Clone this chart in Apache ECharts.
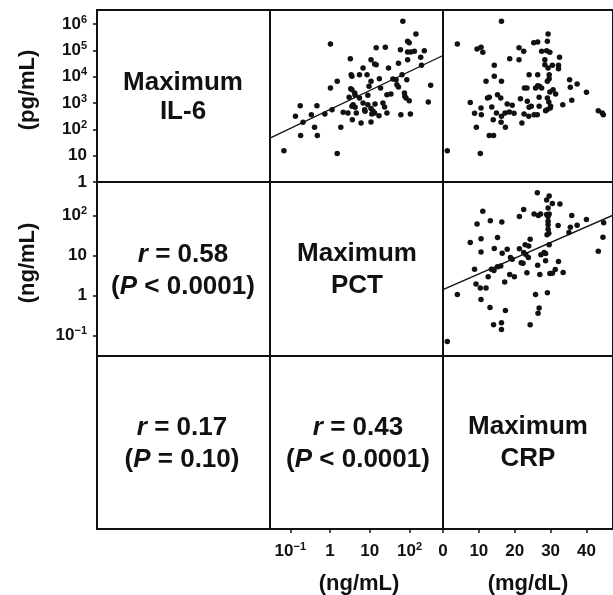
<!DOCTYPE html>
<html><head><meta charset="utf-8">
<script src="https://cdn.jsdelivr.net/npm/echarts@6/dist/echarts.min.js"></script>
<style>html,body{margin:0;padding:0;background:#fff}#c{width:613px;height:595px}</style>
</head><body><div id="c"></div>
<script>
// ---- Data (IL-6 and PCT given as log10 of concentration) ----
// Panel: x = log10 PCT (ng/mL), y = log10 IL-6 (pg/mL)
const pctVsIl6 = [[1.83,6.11],[2.16,5.63],[1.95,5.35],[1.99,5.29],[0.01,5.25],[1.16,5.10],[1.39,5.12],[1.77,5.03],[1.95,4.94],[2.03,4.94],[2.12,4.97],[2.37,4.99],[2.28,4.74],[0.51,4.69],[1.03,4.65],[1.12,4.49],[1.16,4.46],[1.72,4.52],[1.95,4.65],[0.83,4.33],[1.47,4.33],[2.30,4.44],[0.53,4.08],[0.55,4.02],[0.74,4.08],[0.93,4.08],[0.18,3.83],[1.03,3.83],[1.24,3.93],[1.58,3.92],[1.66,3.89],[1.81,4.08],[1.93,3.89],[0.01,3.57],[0.52,3.55],[0.55,3.51],[0.98,3.64],[1.27,3.57],[1.68,3.70],[1.72,3.61],[2.53,3.68],[0.62,3.38],[0.63,3.30],[0.48,3.22],[0.74,3.19],[0.95,3.30],[1.43,3.32],[1.53,3.35],[1.87,3.38],[1.88,3.26],[1.91,3.19],[1.99,3.09],[2.47,3.04],[-0.75,2.90],[-0.33,2.90],[0.58,2.94],[0.55,2.88],[0.63,2.84],[0.83,3.00],[0.95,2.94],[1.13,2.97],[1.33,3.00],[1.37,2.85],[0.05,2.75],[0.33,2.65],[0.45,2.62],[0.66,2.62],[0.87,2.75],[0.88,2.69],[1.03,2.79],[1.08,2.69],[1.05,2.59],[1.12,2.62],[1.43,2.62],[-0.87,2.50],[-0.47,2.56],[-0.13,2.59],[1.23,2.52],[1.78,2.56],[2.02,2.59],[-0.68,2.27],[0.56,2.37],[0.78,2.24],[1.03,2.28],[-0.39,2.08],[0.27,2.08],[-0.74,1.77],[-0.32,1.77],[-1.16,1.19],[0.18,1.08]];
// Panel: x = CRP (mg/dL), y = log10 IL-6 (pg/mL)
const crpVsIl6 = [[16.3,6.11],[4.0,5.25],[9.5,5.06],[10.6,5.12],[11.1,4.93],[29.3,5.63],[25.3,5.29],[26.4,5.32],[29.1,5.35],[21.2,5.10],[22.5,4.97],[27.5,4.97],[28.9,4.99],[29.8,4.93],[18.6,4.69],[21.2,4.65],[28.4,4.65],[32.5,4.74],[14.3,4.44],[28.4,4.46],[29.3,4.33],[30.5,4.44],[32.2,4.44],[32.2,4.31],[14.3,4.02],[24.0,4.08],[26.4,4.08],[29.6,4.08],[29.6,3.93],[12.0,3.83],[16.3,3.83],[29.1,3.83],[35.3,3.89],[37.4,3.73],[22.7,3.57],[23.4,3.57],[25.8,3.57],[26.4,3.66],[26.9,3.64],[27.5,3.57],[35.5,3.60],[30.7,3.51],[29.8,3.42],[31.4,3.35],[40.0,3.41],[12.9,3.22],[12.4,3.19],[15.2,3.32],[16.1,3.19],[21.6,3.17],[23.5,3.07],[24.6,2.88],[26.8,3.22],[29.1,3.19],[29.5,3.04],[35.9,3.11],[33.4,2.94],[7.6,3.02],[10.6,2.81],[13.6,2.85],[17.9,2.97],[19.3,2.92],[24.0,2.84],[26.8,2.88],[30.0,2.88],[29.9,2.81],[8.8,2.61],[10.7,2.56],[14.9,2.62],[17.3,2.62],[18.5,2.66],[19.8,2.61],[16.3,2.50],[22.6,2.59],[23.9,2.50],[25.4,2.56],[26.3,2.56],[28.6,2.71],[29.0,2.75],[43.3,2.71],[44.4,2.62],[44.7,2.56],[14.0,2.37],[16.2,2.27],[22.0,2.24],[9.3,2.08],[17.4,2.08],[12.9,1.77],[14.1,1.77],[1.2,1.19],[10.4,1.08]];
// Panel: x = CRP (mg/dL), y = log10 PCT (ng/mL)
const crpVsPct = [[26.3,2.57],[29.6,2.49],[28.9,2.39],[30.5,2.30],[32.6,2.29],[29.3,2.19],[25.4,2.04],[26.6,2.00],[27.2,2.04],[28.9,2.03],[29.3,1.98],[29.6,2.04],[29.3,1.86],[29.3,1.77],[11.1,2.11],[22.5,2.15],[21.3,1.98],[13.2,1.87],[16.4,1.84],[9.5,1.79],[35.9,2.00],[40.0,1.90],[44.8,1.82],[37.4,1.76],[35.5,1.71],[32.1,1.75],[29.3,1.66],[29.5,1.56],[29.0,1.52],[35.1,1.58],[44.6,1.46],[43.3,1.11],[7.6,1.33],[10.6,1.42],[15.2,1.45],[24.3,1.41],[10.6,1.09],[14.3,1.18],[17.9,1.16],[21.3,1.17],[22.9,1.27],[23.9,1.24],[16.5,1.06],[18.8,0.95],[19.3,0.91],[22.5,1.08],[23.1,1.03],[23.8,0.95],[27.3,1.02],[28.2,1.08],[28.6,1.05],[29.6,1.27],[21.8,0.82],[22.3,0.81],[28.6,0.87],[32.2,0.85],[8.8,0.66],[13.5,0.66],[14.2,0.63],[15.2,0.72],[16.1,0.74],[18.6,0.53],[19.9,0.47],[23.4,0.57],[26.4,0.76],[27.0,0.53],[29.8,0.55],[30.5,0.56],[31.3,0.65],[33.5,0.58],[12.6,0.47],[17.2,0.34],[9.2,0.29],[10.4,0.19],[12.0,0.19],[4.0,0.03],[10.6,-0.10],[25.8,0.03],[29.1,0.07],[13.1,-0.30],[17.4,-0.37],[26.8,-0.31],[26.5,-0.44],[14.1,-0.73],[16.3,-0.68],[16.3,-0.85],[24.3,-0.73],[1.2,-1.15]];
// Regression lines (end points)
const fitPctIl6 = [[-1.51,1.67],[2.84,4.81]];
const fitCrpPct = [[0,0.15],[47.4,2.01]];

// Tick positions (log10 exponents for IL-6 and PCT, plain values for CRP)
const il6Ticks = [0,1,2,3,4,5,6];
const pctTicks = [-1,0,1,2];
const crpTicks = [0,10,20,30,40];

// Cell texts
const diagTitles = [['Maximum','IL-6'],['Maximum','PCT'],['Maximum','CRP']];
const corrR = ['0.58','0.17','0.43'];
const corrP = ['< 0.0001','= 0.10','< 0.0001'];
const unitsY = ['(pg/mL)','(ng/mL)'];
const unitsX = ['(ng/mL)','(mg/dL)'];

// ---- Layout / style ----
const FONT = '"Liberation Sans", Arial, Helvetica, sans-serif';
const INK = '#111';
const colLeft = [97, 270, 443];
const rowTop = [10, 182, 356];
const rowH = [172, 174, 173];
const cellW = 173;
const vars = ['il6','pct','crp'];
const ranges = { il6:[0,6.54], pct:[-1.51,2.84], crp:[0,47.4] };
const tickSets = { il6: il6Ticks, pct: pctTicks, crp: crpTicks };

function expLabel(v){
  const n = Math.round(v);
  if (n === 0) return '1';
  if (n === 1) return '10';
  return '10{s|' + (n < 0 ? '\u2212' + (-n) : String(n)) + '}';
}

const grids = [], xAxes = [], yAxes = [];
for (let r = 0; r < 3; r++) {
  for (let c = 0; c < 3; c++) {
    const gi = r * 3 + c;
    grids.push({ left: colLeft[c], top: rowTop[r], width: cellW, height: rowH[r],
      show: true, borderColor: INK, borderWidth: 2, backgroundColor: 'transparent' });
    const xv = vars[c], yv = vars[r];
    const showX = (r === 2 && c > 0);
    const showY = (c === 0 && r < 2);
    const mk = (v, show, isX) => ({
      type: 'value', gridIndex: gi, min: ranges[v][0], max: ranges[v][1],
      axisLine: { show: false }, splitLine: { show: false },
      axisTick: { show: show, inside: false, length: 4, customValues: tickSets[v], lineStyle: { color: INK, width: 1.5 } },
      axisLabel: { show: show, customValues: tickSets[v], margin: isX ? 12 : 10,
        formatter: v === 'crp' ? (val => String(val)) : expLabel,
        fontSize: 17, fontWeight: 'bold', fontFamily: FONT, color: INK, lineHeight: 20,
        rich: { s: { fontSize: 11, fontWeight: 'bold', fontFamily: FONT, color: INK, verticalAlign: 'top', lineHeight: 13 } } }
    });
    xAxes.push(mk(xv, showX, true));
    yAxes.push(mk(yv, showY, false));
  }
}

const dotStyle = { color: INK, opacity: 1, borderWidth: 0 };
const series = [
  { type: 'scatter', xAxisIndex: 1, yAxisIndex: 1, data: pctVsIl6, symbol: 'circle', symbolSize: 5.5, itemStyle: dotStyle },
  { type: 'line', xAxisIndex: 1, yAxisIndex: 1, data: fitPctIl6, symbol: 'none', lineStyle: { color: INK, width: 1.3 } },
  { type: 'scatter', xAxisIndex: 2, yAxisIndex: 2, data: crpVsIl6, symbol: 'circle', symbolSize: 5.5, itemStyle: dotStyle },
  { type: 'scatter', xAxisIndex: 5, yAxisIndex: 5, data: crpVsPct, symbol: 'circle', symbolSize: 5.5, itemStyle: dotStyle },
  { type: 'line', xAxisIndex: 5, yAxisIndex: 5, data: fitCrpPct, symbol: 'none', lineStyle: { color: INK, width: 1.3 } }
];

const richBody = {
  b: { fontSize: 26, fontWeight: 'bold', fontFamily: FONT, fill: INK, color: INK, lineHeight: 32 },
  i: { fontSize: 26, fontWeight: 'bold', fontStyle: 'italic', fontFamily: FONT, fill: INK, color: INK, lineHeight: 32 }
};
function cellText(text, x, y, lh){
  const rich = JSON.parse(JSON.stringify(richBody));
  if (lh) { rich.b.lineHeight = lh; rich.i.lineHeight = lh; }
  return { type: 'text', x: x, y: y, silent: true,
    style: { text: text, rich: rich, align: 'center', textAlign: 'center', verticalAlign: 'middle', textVerticalAlign: 'middle',
      fill: INK, font: 'bold 26px ' + FONT } };
}
function unitText(text, x, y, rot){
  return { type: 'text', x: x, y: y, rotation: rot, silent: true,
    style: { text: text, align: 'center', textAlign: 'center', verticalAlign: 'middle', textVerticalAlign: 'middle',
      fill: INK, font: 'bold 22px ' + FONT } };
}
const graphic = [
  cellText('{b|' + diagTitles[0][0] + '}\n{b|' + diagTitles[0][1] + '}', 183, 97, 29),
  cellText('{b|' + diagTitles[1][0] + '}\n{b|' + diagTitles[1][1] + '}', 357, 270),
  cellText('{b|' + diagTitles[2][0] + '}\n{b|' + diagTitles[2][1] + '}', 528, 443),
  cellText('{i|r}{b| = ' + corrR[0] + '}\n{b|(}{i|P}{b| ' + corrP[0] + ')}', 183, 271),
  cellText('{i|r}{b| = ' + corrR[1] + '}\n{b|(}{i|P}{b| ' + corrP[1] + ')}', 182, 444),
  cellText('{i|r}{b| = ' + corrR[2] + '}\n{b|(}{i|P}{b| ' + corrP[2] + ')}', 358, 444),
  unitText(unitsY[0], 28, 90, Math.PI / 2),
  unitText(unitsY[1], 28, 263, Math.PI / 2),
  unitText(unitsX[0], 359, 584, 0),
  unitText(unitsX[1], 528, 584, 0)
];

const chart = echarts.init(document.getElementById('c'), null, { renderer: 'canvas' });
chart.setOption({
  animation: false,
  backgroundColor: '#fff',
  grid: grids, xAxis: xAxes, yAxis: yAxes, series: series, graphic: graphic
});
</script></body></html>
